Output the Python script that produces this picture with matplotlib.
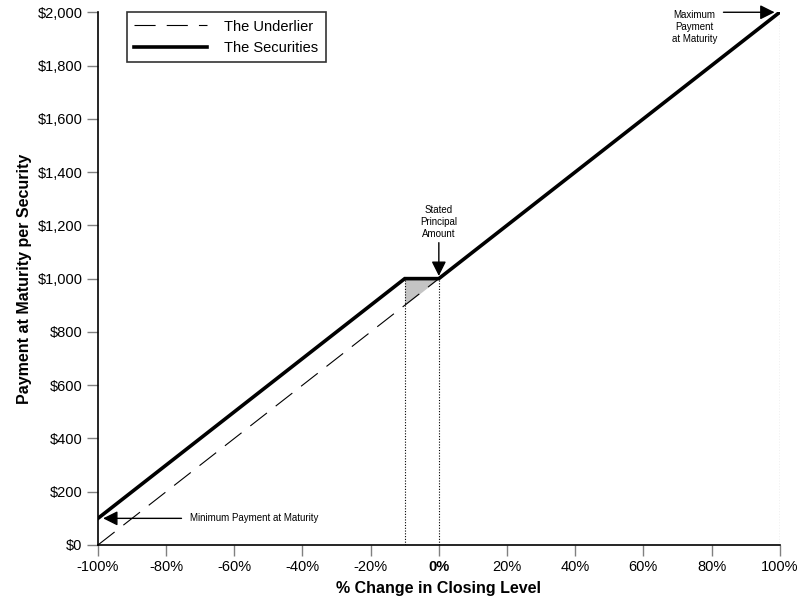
import numpy as np
import matplotlib
matplotlib.use('Agg')
import matplotlib.pyplot as plt

plt.rcParams['font.family'] = ['Liberation Sans', 'DejaVu Sans']

# data
pct_change = [-100, -10, 0, 100]
underlier = [0, 900, 1000, 2000]
securities = [100, 1000, 1000, 2000]
xticks = list(range(-100, 101, 20))
yticks = list(range(0, 2001, 200))

fig = plt.figure(figsize=(8.03, 6.04), dpi=100)
ax = fig.add_axes([0.122, 0.0977, 0.849, 0.882])

ax.plot([pct_change[0], pct_change[-1]], [underlier[0], underlier[-1]], color='black', lw=0.8,
        dashes=(19, 10), label='The Underlier')
ax.plot(pct_change, securities, color='black', lw=2.6, label='The Securities', solid_joinstyle='miter')

# shaded area between -10% and 0%
ax.fill_between(pct_change[1:3], underlier[1:3], securities[1:3], color='#c4c4c4', lw=0)

# dotted verticals
for xv, yv in [(pct_change[1], securities[1]), (pct_change[2], securities[2]), (pct_change[3], securities[3])]:
    ax.plot([xv, xv], [0, yv], color='black', lw=0.8, ls=(0, (1, 1.5)))

arrow = dict(arrowstyle='-|>', color='black', lw=1, mutation_scale=22, shrinkA=0, shrinkB=0)
ax.annotate('', xy=(0, 1010), xytext=(0, 1135), arrowprops=arrow)
ax.text(0, 1150, 'Stated\nPrincipal\nAmount', ha='center', va='bottom', fontsize=7, linespacing=1.25)
ax.annotate('', xy=(98.5, 2000), xytext=(83.5, 2000), arrowprops=arrow)
ax.text(75, 2010, 'Maximum\nPayment\nat Maturity', ha='center', va='top', fontsize=7, linespacing=1.25)
ax.annotate('', xy=(-98.5, 100), xytext=(-75.5, 100), arrowprops=arrow)
ax.text(-73, 100, 'Minimum Payment at Maturity', ha='left', va='center', fontsize=7)

ax.set_xlim(-100, 100)
ax.set_ylim(0, 2000)
ax.set_xticks(xticks)
ax.set_xticklabels(['%d%%' % t for t in xticks])
ax.set_yticks(yticks)
ax.set_yticklabels(['${:,}'.format(t) for t in yticks])
ax.tick_params(labelsize=10.5, direction='out', length=8, width=1, color='#808080', pad=3)
for lbl in ax.get_xticklabels():
    if lbl.get_text() == '0%':
        lbl.set_fontweight('bold')
for s in ['top', 'right']:
    ax.spines[s].set_visible(False)
ax.spines['left'].set_linewidth(1.2)
ax.spines['bottom'].set_linewidth(1.2)

ax.set_xlabel('% Change in Closing Level', fontsize=11.5, fontweight='bold', labelpad=5)
ax.set_ylabel('Payment at Maturity per Security', fontsize=11.5, fontweight='bold', labelpad=4)

leg = ax.legend(loc='upper left', bbox_to_anchor=(0.042, 1.0), fontsize=10.5, frameon=True,
                fancybox=False, edgecolor='black', handlelength=5, borderpad=0.5,
                handletextpad=1.2, borderaxespad=0)
leg.get_frame().set_linewidth(1.2)

fig.savefig('out.png', dpi=100)
